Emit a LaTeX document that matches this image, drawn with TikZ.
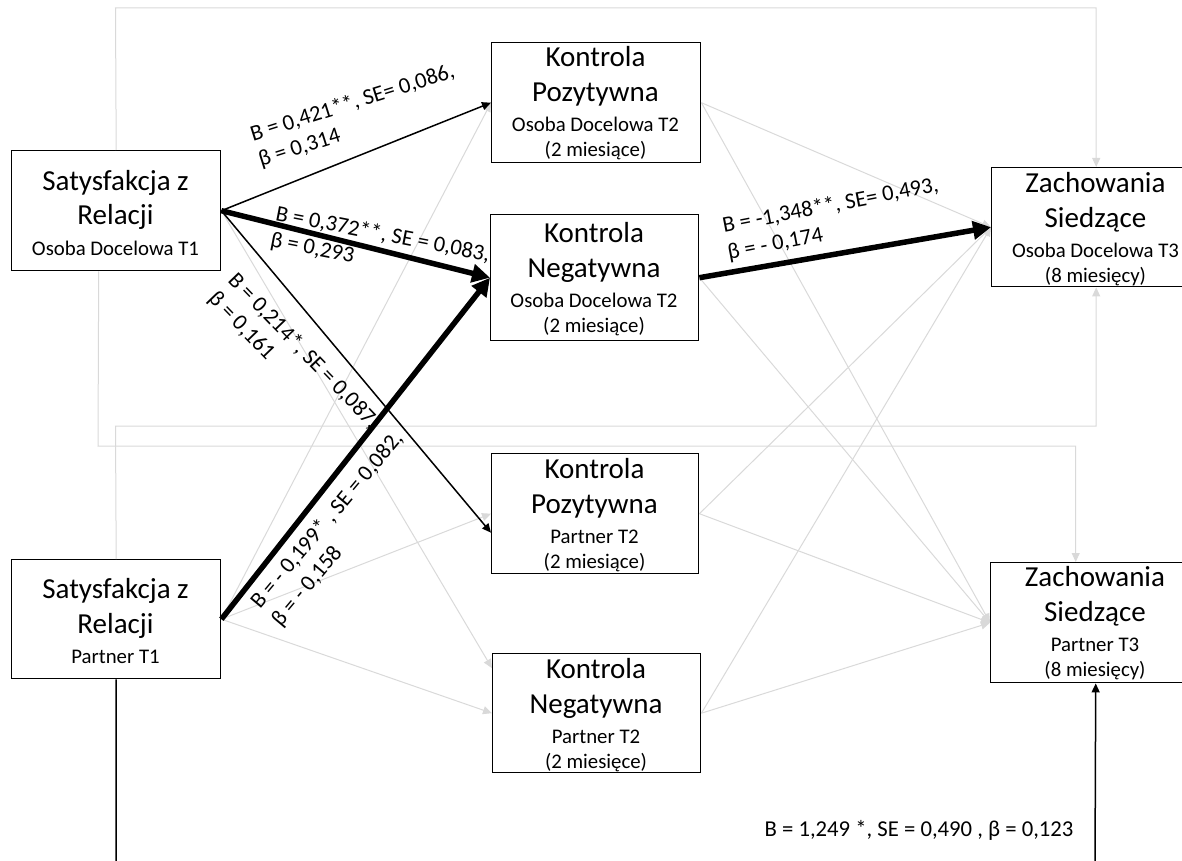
\documentclass[tikz,border=0pt]{standalone}
\usepackage{fontspec}
\setmainfont{Carlito}
\usetikzlibrary{arrows.meta}
\definecolor{lgray}{RGB}{217,217,217}
\newcommand\ttlf{\fontsize{29}{35}\selectfont}
\newcommand\subf{\fontsize{20.8}{25}\selectfont}
\begin{document}
\begin{tikzpicture}[x=1pt,y=-1pt,
  box/.style={draw=black, line width=1.4pt, inner sep=0pt, anchor=north west},
  boxtext/.style={anchor=base, align=center, font=\ttlf, inner sep=0pt},
  lbl/.style={anchor=base west, align=left, font=\fontsize{22.5}{27}\selectfont, inner sep=0pt},
  thinarr/.style={draw=black, line width=1.5pt, -{Triangle[length=9pt,width=8pt]}},
  thickarr/.style={draw=black, line width=5.5pt, -{Triangle[length=18pt,width=18pt]}},
  faint/.style={draw=lgray, line width=1pt, -{Triangle[length=9pt,width=8pt]}},
]
\path[use as bounding box, clip] (0,0) rectangle (1182,861);

% boxes
\node[box, minimum width=209pt, minimum height=120pt] (A) at (11,150) {};
\node[box, minimum width=209pt, minimum height=119pt] (B) at (11,559) {};
\node[box, minimum width=209pt, minimum height=120pt] (KPOD) at (491,42) {};
\node[box, minimum width=208pt, minimum height=126pt] (KNOD) at (490,214) {};
\node[box, minimum width=207pt, minimum height=120pt] (KPP) at (491,453) {};
\node[box, minimum width=208pt, minimum height=119pt] (KNP) at (492,653) {};
\node[box, minimum width=209pt, minimum height=119pt] (ZSOD) at (991,167) {};
\node[box, minimum width=210pt, minimum height=120pt] (ZSP) at (990,562) {};

% box texts (anchor = baseline of last line)
\node[boxtext] (Atxt) at (115.5,255) {Satysfakcja z\\[-1pt]Relacji\\[-4pt]\subf Osoba Docelowa T1};
\node[boxtext] (Btxt) at (115.5,663) {Satysfakcja z\\Relacji\\[-5pt]\subf Partner T1};
\node[boxtext] (KPODtxt) at (595.5,157) {Kontrola\\Pozytywna\\[-5pt]\subf Osoba Docelowa T2\\[-10pt]\subf (2 miesiące)};
\node[boxtext] (KNODtxt) at (594,332) {Kontrola\\Negatywna\\[-5pt]\subf Osoba Docelowa T2\\[-10pt]\subf (2 miesiące)};
\node[boxtext] (KPPtxt) at (594.5,568) {Kontrola\\Pozytywna\\[-5pt]\subf Partner T2\\[-10pt]\subf (2 miesiące)};
\node[boxtext] (KNPtxt) at (596,768) {Kontrola\\Negatywna\\[-5pt]\subf Partner T2\\[-10pt]\subf (2 miesięce)};
\node[boxtext] (ZSODtxt) at (1095.5,282) {Zachowania\\Siedzące\\[-5pt]\subf Osoba Docelowa T3\\[-10pt]\subf (8 miesięcy)};
\node[boxtext] (ZSPtxt) at (1095,676) {Zachowania\\Siedzące\\[-5pt]\subf Partner T3\\[-10pt]\subf (8 miesięcy)};

% routing coordinates
\coordinate (t1) at (115.5,8);
\coordinate (m1) at (98,446);
\coordinate (m2) at (115.5,426);
\coordinate (bend1) at (116,870);
\coordinate (bend2) at (1095,870);

% gray connectors
\draw[faint] (A.north) -- (t1) -| (ZSOD.north);
\draw[faint] ([xshift=-17.5pt]A.south) -- (m1) -| ([xshift=-20pt]ZSP.north);
\draw[faint] (B.north) -- (m2) -| (ZSOD.south);
\draw[faint] (A.east) -- ([yshift=45pt]KNP.west);
\draw[faint] (B.east) -- (KPOD.west);
\draw[faint] (B.east) -- (KPP.west);
\draw[faint] (B.east) -- (KNP.west);
\draw[faint] (KPOD.east) -- (ZSOD.west);
\draw[faint] (KPOD.east) -- (ZSP.west);
\draw[faint] (KNOD.east) -- (ZSP.west);
\draw[faint] (KPP.east) -- (ZSOD.west);
\draw[faint] (KPP.east) -- (ZSP.west);
\draw[faint] (KNP.east) -- (ZSOD.west);
\draw[faint] (KNP.east) -- (ZSP.west);

% black connectors
\draw[thinarr] (A.east) -- (KPOD.west);
\draw[thickarr] (A.east) -- (KNOD.west);
\draw[thinarr] (A.east) -- ([yshift=-19pt]KPP.west);
\draw[thickarr] (B.east) -- (KNOD.west);
\draw[thickarr] (KNOD.east) -- (ZSOD.west);
\draw[draw=black, line width=1.5pt] (B.south) -- (bend1);
\draw[thinarr] (bend2) -- (ZSP.south);

% labels (anchor = baseline of last line)
\node[lbl, rotate=17.5] (l1) at (261,167) {B = 0,421**, SE= 0,086,\\β = 0,314};
\node[lbl, rotate=-11] (l2) at (269.5,246.5) {B = 0,372**, SE = 0,083,\\β = 0,293};
\node[lbl, rotate=-46] (l3) at (207.6,299.8) {B = 0,214*, SE = 0,087,\\β = 0,161};
\node[lbl, rotate=50] (l4) at (280.7,627.4) {B = - 0,199* , SE = 0,082,\\β = - 0,158};
\node[lbl, rotate=11] (l5) at (729,259.5) {B = -1,348**, SE= 0,493,\\β = - 0,174};
\node[anchor=base, font=\fontsize{22.7}{27}\selectfont, inner sep=0pt] (l6) at (919,836) {B = 1,249 *, SE = 0,490 , β = 0,123};
\end{tikzpicture}
\end{document}
